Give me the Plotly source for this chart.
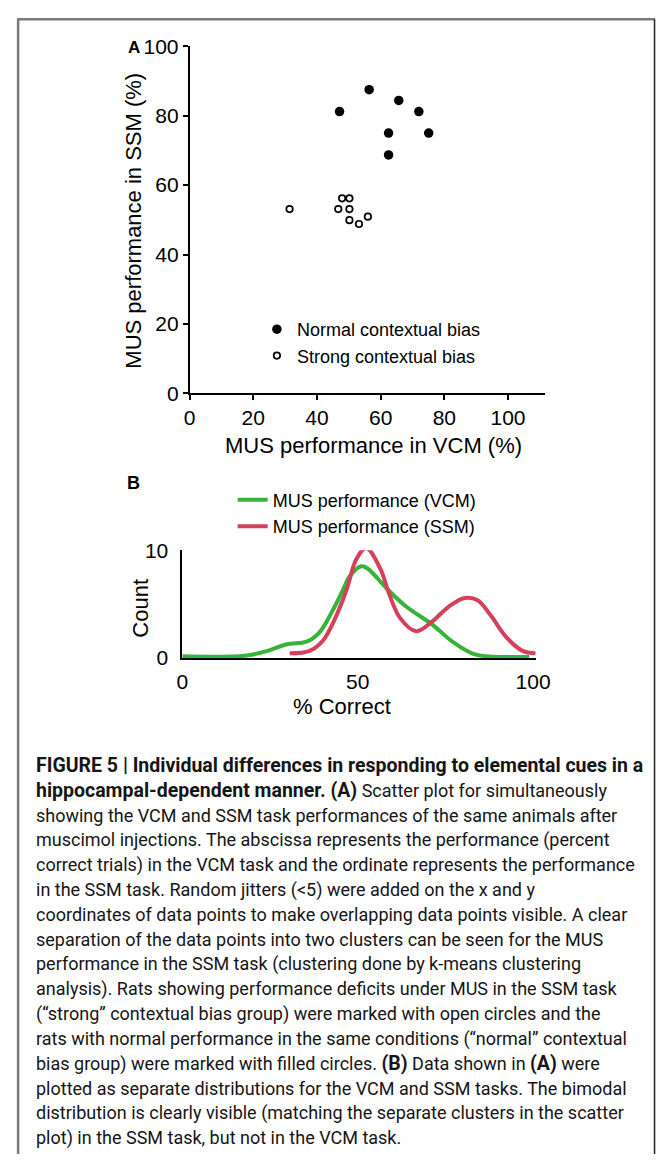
import plotly.graph_objects as go

W, H = 671, 1165

# ---------------- data ----------------
# Panel A scatter (MUS performance, %)
normal_vcm = [47.1, 56.4, 65.7, 72.0, 62.5, 75.1, 62.5]
normal_ssm = [81.2, 87.5, 84.4, 81.2, 75.0, 75.0, 68.7]
strong_vcm = [31.4, 46.7, 47.9, 50.2, 50.2, 50.2, 53.2, 56.0]
strong_ssm = [53.1, 53.1, 56.2, 56.2, 53.1, 49.9, 48.8, 50.9]

# Panel B distributions (% correct vs count)
pct_vcm = [0, 17.9, 24.3, 29.8, 35.4, 39.0, 42.7, 45.5, 47.8, 51.0, 52.8,
           58.4, 63.9, 71.3, 76.8, 83.2, 88.8, 98.9]
count_vcm = [0.15, 0.21, 0.66, 1.27, 1.52, 2.34, 4.3, 6.1, 7.6, 8.5, 8.3,
             6.4, 4.75, 3.1, 1.57, 0.36, 0.12, 0.12]
pct_ssm = [30.6, 36.3, 40.0, 43.6, 46.9, 49.6, 52.4, 56.5, 58.8, 62.1, 66.7,
           71.3, 75.9, 80.5, 84.2, 87.8, 92.5, 97.0, 100.7]
count_ssm = [0.43, 0.66, 1.57, 3.7, 6.4, 9.15, 10.2, 8.25, 6.1, 3.7, 2.48,
             3.4, 4.75, 5.57, 5.36, 4.0, 1.88, 0.66, 0.43]

a_xticks = [0, 20, 40, 60, 80, 100]
a_yticks = [0, 20, 40, 60, 80, 100]
b_xticks = [0, 50, 100]
b_yticks = [0, 10]

BOLD_SPAN = '<span style="font-size:19.5px"><b>{}</b></span>'

caption_lines = [
    BOLD_SPAN.format("FIGURE 5 | Individual differences in responding to elemental cues in a"),
    BOLD_SPAN.format("hippocampal-dependent manner. (A)") + " Scatter plot for simultaneously",
    "showing the VCM and SSM task performances of the same animals after",
    "muscimol injections. The abscissa represents the performance (percent",
    "correct trials) in the VCM task and the ordinate represents the performance",
    "in the SSM task. Random jitters (&lt;5) were added on the x and y",
    "coordinates of data points to make overlapping data points visible. A clear",
    "separation of the data points into two clusters can be seen for the MUS",
    "performance in the SSM task (clustering done by k-means clustering",
    "analysis). Rats showing performance deficits under MUS in the SSM task",
    "(\u201cstrong\u201d contextual bias group) were marked with open circles and the",
    "rats with normal performance in the same conditions (\u201cnormal\u201d contextual",
    "bias group) were marked with filled circles. " + BOLD_SPAN.format("(B)")
    + " Data shown in " + BOLD_SPAN.format("(A)") + " were",
    "plotted as separate distributions for the VCM and SSM tasks. The bimodal",
    "distribution is clearly visible (matching the separate clusters in the scatter",
    "plot) in the SSM task, but not in the VCM task.",
]

GREEN = "#35b437"
RED = "#d5405b"
SANS = "Liberation Sans, Arial, Helvetica, sans-serif"
CAPTION_FONT = "Roboto"


def px_x(p):
    return p / W


def px_y(p):
    return 1 - p / H


fig = go.Figure()

fig.add_trace(go.Scatter(
    x=normal_vcm, y=normal_ssm, mode="markers", name="Normal contextual bias",
    marker=dict(symbol="circle", size=9.5, color="black"),
    xaxis="x", yaxis="y", legend="legend", cliponaxis=False))
fig.add_trace(go.Scatter(
    x=strong_vcm, y=strong_ssm, mode="markers", name="Strong contextual bias",
    marker=dict(symbol="circle-open", size=6.5, color="black",
                line=dict(width=1.7, color="black")),
    xaxis="x", yaxis="y", legend="legend", cliponaxis=False))

fig.add_trace(go.Scatter(
    x=pct_vcm, y=count_vcm, mode="lines", name="MUS performance (VCM)",
    line=dict(color=GREEN, width=4, shape="spline", smoothing=1.0),
    xaxis="x2", yaxis="y2", legend="legend2", cliponaxis=False))
fig.add_trace(go.Scatter(
    x=pct_ssm, y=count_ssm, mode="lines", name="MUS performance (SSM)",
    line=dict(color=RED, width=4, shape="spline", smoothing=1.0),
    xaxis="x2", yaxis="y2", legend="legend2", cliponaxis=False))

axis_common = dict(showgrid=False, zeroline=False, showline=True,
                   linecolor="black", linewidth=1.6, color="black",
                   tickfont=dict(family=SANS, size=21, color="black"))


def leg(left, top):
    return dict(x=px_x(left), y=px_y(top), xanchor="left", yanchor="top",
                bgcolor="rgba(0,0,0,0)", tracegroupgap=0,
                font=dict(family=SANS, size=18, color="black"))


fig.update_layout(
    width=W, height=H,
    margin=dict(l=0, r=0, t=0, b=0),
    paper_bgcolor="white", plot_bgcolor="white",
    font=dict(family=SANS, color="black"),
    xaxis=dict(domain=[px_x(189.5), px_x(556)], range=[0, 111.5], anchor="y",
               tickvals=a_xticks, ticks="outside", ticklen=5, tickwidth=1.6,
               tickcolor="black", **axis_common),
    yaxis=dict(domain=[px_y(389), px_y(35)], range=[0, 100], anchor="x",
               tickvals=a_yticks, ticks="outside", ticklen=5, tickwidth=1.6,
               tickcolor="black", **axis_common),
    xaxis2=dict(domain=[px_x(182), px_x(547)], range=[0, 100.8], anchor="y2",
                tickvals=b_xticks, ticks="outside", ticklen=4,
                tickcolor="rgba(0,0,0,0)", layer="below traces",
                **axis_common),
    yaxis2=dict(domain=[px_y(659), px_y(549)], range=[0, 10], anchor="x2",
                tickvals=b_yticks, ticks="outside", ticklen=8,
                tickcolor="rgba(0,0,0,0)", layer="below traces",
                **axis_common),
    legend=leg(259, 305),
    legend2=leg(234, 479),
    showlegend=True,
)

# axis titles
titles = [
    ("MUS performance in VCM (%)", 379, 442, 0),
    ("MUS performance in SSM (%)", 132, 213, -90),
    ("% Correct", 347, 708, 0),
    ("Count", 139, 608, -90),
]
for txt, cx, cy, ang in titles:
    fig.add_annotation(text=txt, x=px_x(cx), y=px_y(cy), xref="paper",
                       yref="paper", showarrow=False, xanchor="center",
                       yanchor="middle", textangle=ang,
                       font=dict(family=SANS, size=22, color="black"))

# panel labels
fig.add_annotation(text="<b>A</b>", x=px_x(132), y=px_y(36), xref="paper",
                   yref="paper", showarrow=False, xanchor="center",
                   yanchor="middle", font=dict(family=SANS, size=17))
fig.add_annotation(text="<b>B</b>", x=px_x(132), y=px_y(480), xref="paper",
                   yref="paper", showarrow=False, xanchor="center",
                   yanchor="middle", font=dict(family=SANS, size=18))

# caption
for i, line in enumerate(caption_lines):
    base = 775 + 25.33 * i
    fig.add_annotation(text=line, x=px_x(29), y=px_y(base - 6), xref="paper",
                       yref="paper", showarrow=False, xanchor="left",
                       yanchor="middle", align="left",
                       font=dict(family=CAPTION_FONT, size=18, color="#151515"))

# frame (open at the bottom, like the cropped page of the reference)
fig.add_shape(type="line", xref="paper", yref="paper", x0=px_x(12.5),
              x1=px_x(12.5), y0=px_y(7.5), y1=0,
              line=dict(color="#7a7a7a", width=2.5))
fig.add_shape(type="line", xref="paper", yref="paper", x0=px_x(11.5),
              x1=px_x(670), y0=px_y(7.5), y1=px_y(7.5),
              line=dict(color="#7a7a7a", width=2.5))
fig.add_shape(type="line", xref="paper", yref="paper", x0=px_x(669.5),
              x1=px_x(669.5), y0=px_y(7.5), y1=0,
              line=dict(color="#222222", width=1.5))

fig.write_html(
    "out.html",
    config={"displayModeBar": False},
    post_script="document.body.style.margin='0';",
)
